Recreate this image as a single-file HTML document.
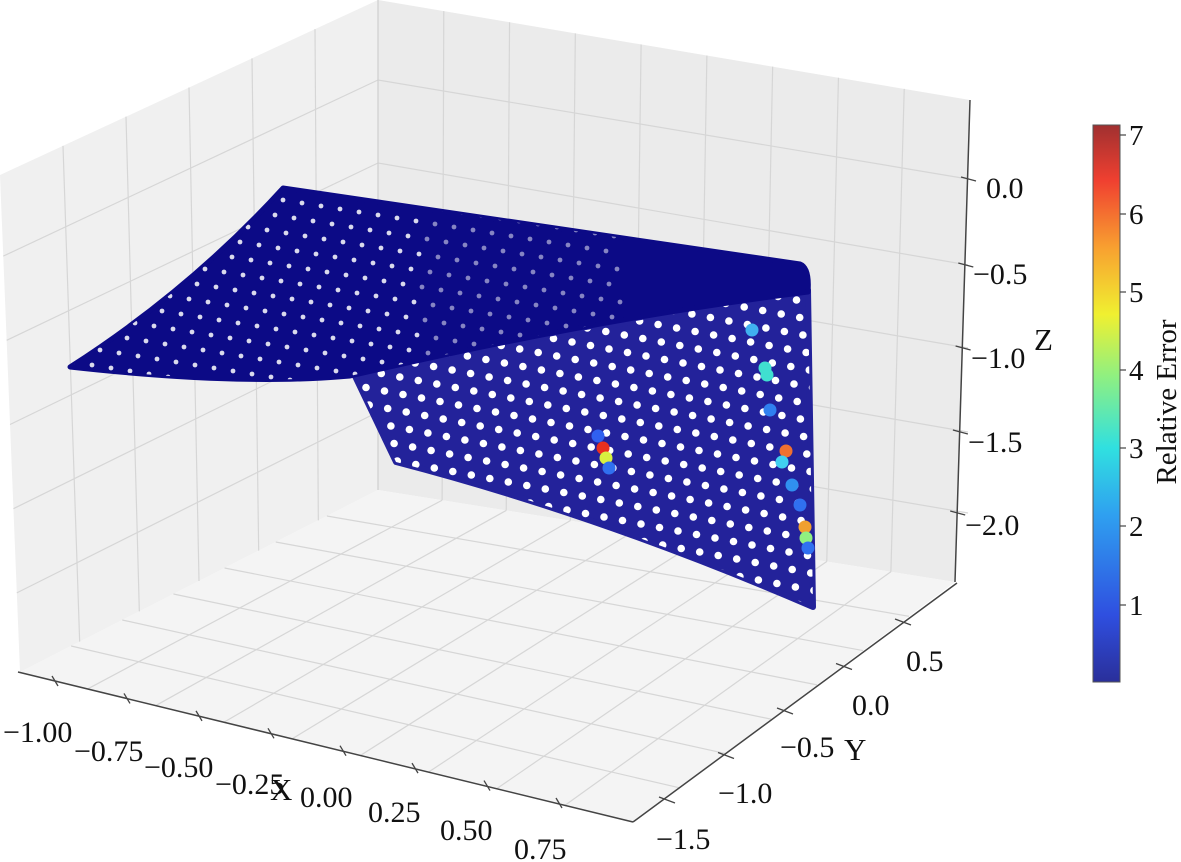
<!DOCTYPE html>
<html><head><meta charset="utf-8"><style>
html,body{margin:0;padding:0;background:#fff;}
svg{display:block;font-family:"Liberation Serif","DejaVu Serif",serif;}
</style></head><body>
<svg id="s" width="1181" height="862" viewBox="0 0 1181 862" xmlns="http://www.w3.org/2000/svg">
<defs>
<linearGradient id="jet" x1="0" y1="1" x2="0" y2="0">
<stop offset="0" stop-color="#2a2f9a"/>
<stop offset="0.12" stop-color="#2f4fe0"/>
<stop offset="0.3" stop-color="#2fa0f0"/>
<stop offset="0.42" stop-color="#30e0e0"/>
<stop offset="0.55" stop-color="#90f080"/>
<stop offset="0.66" stop-color="#f0f030"/>
<stop offset="0.78" stop-color="#f8a030"/>
<stop offset="0.9" stop-color="#f04030"/>
<stop offset="1" stop-color="#a03030"/>
</linearGradient>
<clipPath id="cf"><path d="M353,372 L808,290 L813,607 Q600,515 396,462 Z"/></clipPath>
<clipPath id="ct"><path d="M283,188 L800,264 Q810,268 808,292 Q600,318 350,376 Q240,386 70,367 Q190,290 283,188 Z"/></clipPath>
</defs>
<polygon points="0,175 378,0 378,490 20,672" fill="#f0f0f0"/>
<polygon points="378,0 970,100 955,582 378,490" fill="#ebebeb"/>
<polygon points="378,490 955,582 633,822 20,672" fill="#f4f4f4"/>
<g id="grid" stroke="#d6d6d6" stroke-width="1.2" fill="none"></g>
<path d="M353,372 L808,290 L813,607 Q600,515 396,462 Z" fill="#23229a" stroke="#23229a" stroke-width="6" stroke-linejoin="round"/>
<g id="wf" clip-path="url(#cf)" fill="#fff"></g>
<g id="hot"></g>
<path d="M283,188 L800,264 Q810,268 808,292 Q600,318 350,376 Q240,386 70,367 Q190,290 283,188 Z" fill="#0c0a86" stroke="#0c0a86" stroke-width="5" stroke-linejoin="round"/>
<g id="wt" clip-path="url(#ct)" fill="#fff"></g>
<g stroke="#444" stroke-width="1.5" fill="none">
<line x1="18" y1="672" x2="633" y2="822"/>
<line x1="633" y1="822" x2="957" y2="583"/>
<line x1="970" y1="100" x2="955" y2="582"/>
</g>
<g id="ticks" stroke="#444" stroke-width="1.3"></g>
<g font-size="30" fill="#111">
<text x="3" y="742">−1.00</text>
<text x="74" y="761">−0.75</text>
<text x="144" y="777">−0.50</text>
<text x="215" y="794">−0.25</text>
<text x="300" y="807">0.00</text>
<text x="368" y="822">0.25</text>
<text x="440" y="840">0.50</text>
<text x="514" y="859">0.75</text>
<text x="270" y="800" font-size="31">X</text>
<text x="906" y="671">0.5</text>
<text x="852" y="715">0.0</text>
<text x="780" y="757">−0.5</text>
<text x="718" y="803">−1.0</text>
<text x="656" y="849">−1.5</text>
<text x="844" y="760" font-size="31">Y</text>
<text x="986" y="198">0.0</text>
<text x="973" y="284">−0.5</text>
<text x="971" y="368">−1.0</text>
<text x="968" y="452">−1.5</text>
<text x="965" y="535">−2.0</text>
<text x="1034" y="350" font-size="31">Z</text>
</g>
<rect x="1093" y="125" width="27" height="557" fill="url(#jet)" stroke="#555" stroke-width="1"/>
<g stroke="#444" stroke-width="1.2">
<line x1="1120" y1="135" x2="1126" y2="135"/><line x1="1120" y1="214" x2="1126" y2="214"/>
<line x1="1120" y1="292" x2="1126" y2="292"/><line x1="1120" y1="370" x2="1126" y2="370"/>
<line x1="1120" y1="448" x2="1126" y2="448"/><line x1="1120" y1="526" x2="1126" y2="526"/>
<line x1="1120" y1="605" x2="1126" y2="605"/>
</g>
<g font-size="29" fill="#111">
<text x="1129" y="145">7</text><text x="1129" y="224">6</text><text x="1129" y="302">5</text>
<text x="1129" y="380">4</text><text x="1129" y="458">3</text><text x="1129" y="536">2</text>
<text x="1129" y="615">1</text>
<text transform="translate(1176,402) rotate(-90)" text-anchor="middle" font-size="29">Relative Error</text>
</g>
</svg>
<script>
var NS="http://www.w3.org/2000/svg";
function el(p,t,a){var e=document.createElementNS(NS,t);for(var k in a)e.setAttribute(k,a[k]);p.appendChild(e);return e;}
function L(a,b,t){return [a[0]+(b[0]-a[0])*t,a[1]+(b[1]-a[1])*t];}
var g=document.getElementById('grid');
var B=[378,490],R=[955,582],F=[633,822],Lf=[20,672],LT=[0,175],BT=[378,0],RT=[970,100];
for(var i=1;i<9;i++){var t=i/9;var p=L(Lf,F,t),q=L(B,R,t);el(g,'line',{x1:p[0],y1:p[1],x2:q[0],y2:q[1]});}
for(var i=1;i<7;i++){var t=i/7;var p=L(F,R,t),q=L(Lf,B,t);el(g,'line',{x1:p[0],y1:p[1],x2:q[0],y2:q[1]});}
for(var i=1;i<6;i++){var t=i/6;var p=L(LT,BT,t),q=L(Lf,B,t);el(g,'line',{x1:p[0],y1:p[1],x2:q[0],y2:q[1]});}
[[179,80],[265,163],[348,246],[432,329],[513,412]].forEach(function(r){el(g,'line',{x1:968,y1:r[0],x2:378,y2:r[1]});
 var y=r[1];var t=y/490;var lp=L(LT,Lf,t);el(g,'line',{x1:378,y1:y,x2:lp[0],y2:lp[1]});});
for(var i=1;i<9;i++){var t=i/9;var p=L(BT,RT,t),q=L(B,R,t);el(g,'line',{x1:p[0],y1:p[1],x2:q[0],y2:q[1]});}
el(g,'line',{x1:378,y1:0,x2:378,y2:490,stroke:'#cfcfcf'});
var tk=document.getElementById('ticks');
for(var i=0;i<8;i++){var p=L([55,681],[559,803],i/7);el(tk,'line',{x1:p[0]-3,y1:p[1]-5,x2:p[0]+3,y2:p[1]+5});}
for(var i=0;i<5;i++){var p=L([667,800],[903,622],i/4);el(tk,'line',{x1:p[0]-8,y1:p[1]-3,x2:p[0]+8,y2:p[1]+3});}
[179,265,348,432,513].forEach(function(y,i){var x=968-i*2.7;el(tk,'line',{x1:x-7,y1:y-2,x2:x+8,y2:y+2});});
var wf=document.getElementById('wf');
for(var i=-5;i<40;i++)for(var j=-30;j<30;j++){
 var x=350+i*18.5+j*3.2, y=300+i*3.5+j*17.5;
 if(x<340||x>830||y<270||y>620)continue;
 el(wf,'circle',{cx:x.toFixed(1),cy:y.toFixed(1),r:3.8});
}
var wt=document.getElementById('wt');
for(var i=-10;i<40;i++)for(var j=-30;j<30;j++){
 var x=283+i*19+j*(-8), y=200+i*3+j*15;
 if(x<60||x>620||y<180||y>390)continue;
 var op=x<420?0.85:0.5;
 el(wt,'circle',{cx:x.toFixed(1),cy:y.toFixed(1),r:2.4,'fill-opacity':op});
}
var h=document.getElementById('hot');
[[598,436,'#3060f0'],[603,448,'#e83020'],[606,458,'#d8f040'],[609,468,'#3070f0'],[752,330,'#40b0f0'],[765,368,'#40e0d0'],[767,375,'#40e0d0'],[770,410,'#3080f0'],[786,451,'#f07030'],[782,462,'#40d0f0'],[792,485,'#3090f0'],[800,505,'#3070f0'],[805,527,'#f0a030'],[806,538,'#90f080'],[808,548,'#3070f0']].forEach(function(c){el(h,'circle',{cx:c[0],cy:c[1],r:6.5,fill:c[2]});});
</script>
</body></html>
